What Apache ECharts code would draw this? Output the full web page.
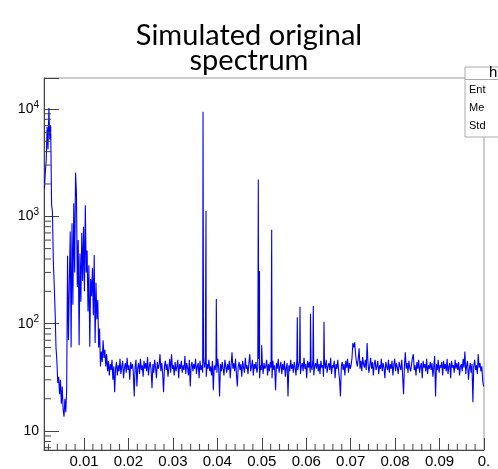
<!DOCTYPE html>
<html>
<head>
<meta charset="utf-8">
<script src="https://cdn.jsdelivr.net/npm/echarts@6/dist/echarts.min.js"></script>
<style>
html, body { margin: 0; padding: 0; background: #fff; }
#main { width: 498px; height: 469px; }
</style>
</head>
<body>
<div id="main"></div>
<script>
// histogram range (x) and bin contents
var xMin = 0.001;
var xMax = 0.1;
var yMin = 6.66;
var yMax = 19400;

// 495 bins of 0.0002
var counts = [
    1800, 2600, 3300, 6800, 4200, 10200, 5200, 7000, 1300, 1100,
    380, 230, 130, 60, 45, 28, 32, 22, 30, 18,
    26, 16, 13.6, 20, 15, 24, 430, 70, 240, 720,
    60, 860, 150, 1320, 300, 2550, 1630, 220, 600, 63,
    450, 160, 700, 250, 800, 200, 1270, 300, 480, 130,
    350, 61, 260, 180, 330, 120, 435, 66, 240, 110,
    166, 60, 90, 40, 55, 44, 70, 48, 57, 40,
    52, 36, 45, 33, 42, 37, 46, 30, 40, 23,
    38, 44, 33, 41, 36, 47, 34, 40, 45, 31,
    39, 43, 35, 48, 37, 41, 30, 44, 38, 42,
    35, 21, 40, 46, 26, 39, 43, 34, 47, 37,
    41, 32, 45, 38, 43, 36, 49, 33, 40, 44,
    37, 25, 42, 35, 46, 39, 31, 44, 38, 41,
    52, 36, 43, 34, 23, 40, 45, 37, 42, 32,
    39, 47, 35, 52, 38, 41, 33, 44, 36, 40,
    46, 31, 42, 38, 45, 35, 41, 37, 50, 34,
    43, 39, 33, 46, 26, 40, 44, 36, 42, 38,
    47, 34, 40, 43, 31, 45, 37, 41, 35, 48,
    39, 44, 32, 42, 38, 46, 36, 40, 33, 45,
    24, 41, 37, 43, 35, 47, 39, 21, 42, 36,
    44, 38, 33, 46, 40, 35, 42, 37, 45, 31,
    41, 54, 38, 43, 36, 47, 34, 26, 40, 44,
    37, 42, 32, 45, 39, 35, 48, 38, 41, 34,
    43, 52, 36, 40, 46, 33, 42, 38, 44, 35,
    39, 47, 31, 41, 37, 45, 34, 43, 38, 40,
    46, 33, 42, 36, 44, 39, 31, 45, 37, 41,
    24, 43, 38, 47, 35, 40, 44, 34, 42, 37,
    45, 32, 39, 43, 21, 41, 36, 46, 38, 42,
    35, 44, 39, 33, 47, 37, 41, 45, 34, 40,
    43, 36, 48, 38, 42, 31, 45, 39, 44, 35,
    41, 37, 46, 33, 40, 43, 38, 47, 36, 42,
    34, 45, 39, 41, 32, 44, 38, 46, 35, 40,
    43, 37, 48, 34, 41, 39, 45, 31, 42, 38,
    46, 36, 30, 21, 40, 44, 37, 42, 33, 45,
    39, 47, 35, 43, 38, 41, 48, 66, 60, 67,
    52, 44, 40, 47, 59, 38, 45, 36, 49, 42,
    39, 46, 37, 66, 43, 35, 41, 48, 38, 44,
    33, 42, 46, 37, 40, 45, 34, 41, 38, 47,
    36, 43, 39, 31, 44, 40, 37, 46, 35, 42,
    38, 45, 33, 41, 47, 36, 43, 39, 34, 44,
    40, 37, 46, 32, 22, 41, 54, 38, 43, 35,
    45, 39, 36, 42, 48, 52, 37, 41, 33, 44,
    38, 46, 35, 40, 43, 31, 45, 39, 42, 36,
    47, 34, 41, 38, 44, 37, 43, 32, 40, 50,
    21, 42, 37, 46, 35, 41, 39, 44, 33, 45,
    38, 42, 36, 47, 34, 40, 43, 31, 45, 39,
    41, 35, 46, 38, 43, 37, 44, 33, 40, 42,
    36, 47, 39, 55, 34, 41, 45, 30, 38, 43,
    35, 42, 18.5, 40, 46, 37, 41, 34, 52, 39,
    43, 36, 40, 30, 26
];

// narrow lines
var peakX = [0.03678, 0.03745, 0.03977, 0.04922, 0.04949, 0.04998, 0.05223, 0.05799, 0.0586, 0.06096, 0.06159, 0.064];
var peakY = [9400, 1120, 170, 2200, 310, 63, 750, 115, 144, 124, 146, 104];

// minor tick positions (ROOT style)
var xMinor = [];
for (var k = 1; k < 50; k++) {
    if (k % 5 !== 0) xMinor.push(k * 0.002);
}
var yMinor = [];
for (var n = 0; n < 5; n++) {
    for (var m = 2; m < 10; m++) {
        var v = m * Math.pow(10, n);
        if (v > yMin && v < yMax) yMinor.push(v);
    }
}

var binWidth = (xMax - xMin) / counts.length;
var points = [];
counts.forEach(function (c, i) {
    points.push([xMin + (i + 0.5) * binWidth, c]);
});
peakX.forEach(function (x, i) {
    points.push([x, peakY[i]]);
});
points.sort(function (a, b) { return a[0] - b[0]; });

var axisColor = '#444';

var myChart = echarts.init(document.getElementById('main'));
var option = {
    animation: false,
    title: {
        text: 'Simulated original\nspectrum',
        left: 'center',
        top: 18,
        textStyle: {
            fontFamily: 'Lato',
            fontSize: 29,
            fontWeight: 'normal',
            color: '#000',
            lineHeight: 25
        }
    },
    grid: {
        left: 44,
        right: 14,
        top: 78,
        bottom: 18,
        show: true,
        borderColor: '#999',
        borderWidth: 1
    },
    xAxis: {
        type: 'value',
        min: xMin,
        max: xMax,
        splitNumber: 10,
        axisLine: { lineStyle: { color: axisColor } },
        axisTick: { inside: true, length: 12, lineStyle: { color: axisColor } },
        splitLine: { show: false },
        axisLabel: {
            margin: 4,
            fontFamily: 'Liberation Sans',
            fontSize: 15,
            color: '#000',
            formatter: function (v) {
                if (Math.abs(v - xMax) < 1e-9) return '0.';
                if (v < 0.005) return '';
                return v.toFixed(2);
            }
        }
    },
    yAxis: {
        type: 'log',
        logBase: 10,
        min: yMin,
        max: yMax,
        splitNumber: 3,
        axisLine: { lineStyle: { color: axisColor } },
        axisTick: { inside: true, length: 15, lineStyle: { color: axisColor } },
        splitLine: { show: false },
        axisLabel: {
            margin: 5,
            formatter: function (v) {
                var e = Math.log10(v);
                if (Math.abs(e - Math.round(e)) > 1e-6) return '';
                e = Math.round(e);
                if (e === 1) return '{b|10}';
                return '{b|10}{s|' + e + '}';
            },
            rich: {
                b: { fontFamily: 'Liberation Sans', fontSize: 14, color: '#000' },
                s: { fontFamily: 'Liberation Sans', fontSize: 10, color: '#000', padding: [0, 0, 8, 0] }
            }
        }
    },
    graphic: [
        { type: 'rect', z: 100, shape: { x: 465, y: 67, width: 40, height: 70 }, style: { fill: '#fff', stroke: '#aaa', lineWidth: 1 } },
        { type: 'line', z: 101, shape: { x1: 465, y1: 79.5, x2: 498, y2: 79.5 }, style: { stroke: '#aaa', lineWidth: 1 } },
        { type: 'text', z: 101, x: 489, y: 65, style: { text: 'h', font: '15px "Liberation Sans"', fill: '#000' } },
        { type: 'text', z: 101, x: 469, y: 84, style: { text: 'Ent', font: '11px "Liberation Sans"', fill: '#000' } },
        { type: 'text', z: 101, x: 469, y: 102, style: { text: 'Me', font: '11px "Liberation Sans"', fill: '#000' } },
        { type: 'text', z: 101, x: 469, y: 120, style: { text: 'Std', font: '11px "Liberation Sans"', fill: '#000' } }
    ],
    series: [{
        type: 'line',
        data: points,
        showSymbol: false,
        silent: true,
        lineStyle: { color: '#0000ff', width: 1.1 },
        z: 2
    }, {
        type: 'custom',
        silent: true,
        data: xMinor.map(function (x) { return [x, yMin]; }),
        renderItem: function (params, api) {
            var p = api.coord([api.value(0), api.value(1)]);
            return {
                type: 'line',
                shape: { x1: p[0], y1: p[1], x2: p[0], y2: p[1] - 6 },
                style: { stroke: axisColor, lineWidth: 1 }
            };
        },
        z: 3
    }, {
        type: 'custom',
        silent: true,
        data: yMinor.map(function (y) { return [xMin, y]; }),
        renderItem: function (params, api) {
            var p = api.coord([api.value(0), api.value(1)]);
            return {
                type: 'line',
                shape: { x1: p[0], y1: p[1], x2: p[0] + 7, y2: p[1] },
                style: { stroke: axisColor, lineWidth: 1 }
            };
        },
        z: 3
    }]
};
myChart.setOption(option);
</script>
</body>
</html>
